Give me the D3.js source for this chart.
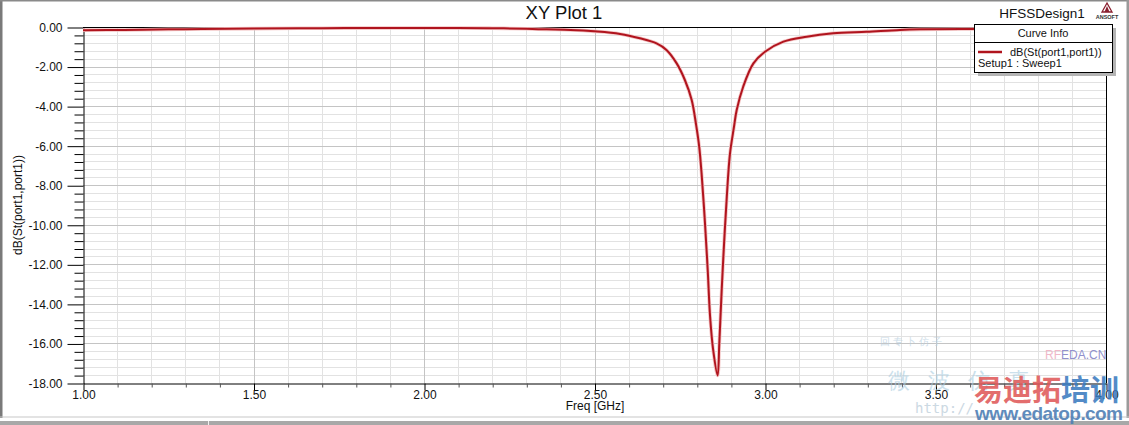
<!DOCTYPE html>
<html><head><meta charset="utf-8">
<script src="https://cdn.jsdelivr.net/npm/d3@7"></script>
<style>
html,body{margin:0;padding:0;background:#fff;}
svg{display:block;font-family:"Liberation Sans",Arial,sans-serif;}
</style></head>
<body><svg id="c" width="1129" height="425"></svg>
<script>
// ---- data ----
const freqGHz = [1.00, 1.12, 1.25, 1.35, 1.50, 1.70, 1.90, 2.00, 2.10, 2.20, 2.30, 2.36, 2.43, 2.50, 2.575, 2.633, 2.682, 2.711, 2.741, 2.765, 2.785, 2.798, 2.807, 2.814, 2.824, 2.832, 2.839, 2.848, 2.861, 2.866, 2.873, 2.880, 2.888, 2.897, 2.909, 2.917, 2.936, 2.966, 3.000, 3.054, 3.122, 3.200, 3.298, 3.396, 3.455, 3.60, 3.80, 4.00];
const s11dB   = [-0.16, -0.15, -0.12, -0.10, -0.08, -0.06, -0.05, -0.05, -0.05, -0.06, -0.09, -0.12, -0.15, -0.22, -0.35, -0.57, -0.83, -1.16, -1.84, -2.68, -3.69, -4.95, -6.05, -7.40, -9.92, -12.29, -14.65, -16.33, -17.62, -15.99, -13.30, -10.94, -8.58, -6.45, -5.05, -4.20, -3.02, -1.84, -1.25, -0.74, -0.49, -0.32, -0.24, -0.15, -0.12, -0.10, -0.07, -0.05];
const xMajorTicks = [1.00, 1.50, 2.00, 2.50, 3.00, 3.50, 4.00];
const yMajorTicks = [0, -2, -4, -6, -8, -10, -12, -14, -16, -18];
const titleText = "XY Plot 1";
const designText = "HFSSDesign1";
const xLabel = "Freq [GHz]";
const yLabel = "dB(St(port1,port1))";
const legendTitle = "Curve Info";
const legendCurve = "dB(St(port1,port1))";
const legendSetup = "Setup1 : Sweep1";

// ---- layout ----
const svg = d3.select("#c");
const L = 83, R = 1106, T = 27, B = 383;
const x = d3.scaleLinear().domain([1, 4]).range([L, R]);
const y = d3.scaleLinear().domain([0, -18]).range([T, B]);

svg.append("rect").attr("width",1129).attr("height",425).attr("fill","#fff");

// window frame
svg.append("rect").attr("x",0).attr("y",0).attr("width",2.5).attr("height",418).attr("fill","#7a7a7a");
svg.append("rect").attr("x",0).attr("y",0).attr("width",1129).attr("height",1.5).attr("fill","#8a8a8a");
svg.append("rect").attr("x",1126.5).attr("y",0).attr("width",2.5).attr("height",418).attr("fill","#9a9a9a");
svg.append("rect").attr("x",0).attr("y",416.5).attr("width",1129).attr("height",1).attr("fill","#c8c8c8");
svg.append("rect").attr("x",0).attr("y",421).attr("width",1129).attr("height",4).attr("fill","#a8a8a8");
svg.append("rect").attr("x",208).attr("y",421).attr("width",1).attr("height",4).attr("fill","#f0f0f0");

// grid
const xMinor = d3.range(11, 40).map(d => d / 10).filter(v => Math.abs(v*2 - Math.round(v*2)) > 1e-6);
const xMajInner = xMajorTicks.filter(v => v > 1 && v < 4);
const yMinor = d3.range(1, 45).map(d => -d * 0.4).filter(v => v > -18 && Math.abs(v/2 - Math.round(v/2)) > 1e-6);
const yMajInner = yMajorTicks.filter(v => v < 0 && v > -18);
const g = svg.append("g");
g.selectAll(".vx").data(xMinor).join("line")
  .attr("x1", d => Math.round(x(d)) + 0.5).attr("x2", d => Math.round(x(d)) + 0.5)
  .attr("y1", T).attr("y2", B).attr("stroke", "#e2e2e2");
g.selectAll(".hy").data(yMinor).join("line")
  .attr("y1", d => Math.round(y(d)) + 0.5).attr("y2", d => Math.round(y(d)) + 0.5)
  .attr("x1", L).attr("x2", R).attr("stroke", "#e2e2e2");
g.selectAll(".vX").data(xMajInner).join("line")
  .attr("x1", d => Math.round(x(d)) + 0.5).attr("x2", d => Math.round(x(d)) + 0.5)
  .attr("y1", T).attr("y2", B).attr("stroke", "#c4c4c4");
g.selectAll(".hY").data(yMajInner).join("line")
  .attr("y1", d => Math.round(y(d)) + 0.5).attr("y2", d => Math.round(y(d)) + 0.5)
  .attr("x1", L).attr("x2", R).attr("stroke", "#c4c4c4");

// frame top/right
svg.append("line").attr("x1",L).attr("x2",R+0.5).attr("y1",T+0.5).attr("y2",T+0.5).attr("stroke","#000");
svg.append("line").attr("x1",R+0.5).attr("x2",R+0.5).attr("y1",T).attr("y2",B).attr("stroke","#000");

// axes
const fmt = d => d.toFixed(2);
svg.append("g").attr("transform", `translate(${L+0.5},0.5)`)
  .call(d3.axisLeft(y).tickValues(yMajorTicks).tickSize(16).tickSizeOuter(0).tickPadding(5).tickFormat(fmt));
svg.append("g").attr("transform", `translate(${L+0.5},0.5)`)
  .call(d3.axisLeft(y).tickValues(yMinor).tickSize(9).tickSizeOuter(0).tickFormat(""))
  .select(".domain").remove();
svg.append("g").attr("transform", `translate(0.5,${B+0.5})`)
  .call(d3.axisBottom(x).tickValues(xMajorTicks).tickSize(7).tickSizeOuter(0).tickPadding(0).tickFormat(fmt));
svg.append("g").attr("transform", `translate(0.5,${B+0.5})`)
  .call(d3.axisBottom(x).tickValues(xMinor).tickSize(4).tickSizeOuter(0).tickFormat(""))
  .call(s => s.selectAll("line").attr("stroke","#555"))
  .select(".domain").remove();
svg.selectAll(".tick text").attr("font-size", 12).attr("fill", "#111").attr("font-family", '"Liberation Sans",Arial,sans-serif');
svg.selectAll(".domain").attr("stroke", "#000");

// curve
const pts = freqGHz.map((f, i) => [f, s11dB[i]]);
const line = d3.line().x(d => x(d[0])).y(d => y(d[1])).curve(d3.curveCatmullRom.alpha(0.5));
svg.append("path").datum(pts).attr("d", line).attr("fill","none")
  .attr("stroke", "#f3c4c4").attr("stroke-width", 3.6).attr("stroke-linejoin","round");
svg.append("path").datum(pts).attr("d", line).attr("fill","none")
  .attr("stroke", "#b0141e").attr("stroke-width", 2).attr("stroke-linejoin","round");

// titles
svg.append("text").attr("x", 564).attr("y", 19).attr("text-anchor","middle")
  .attr("font-size", 18.5).attr("fill","#111").text(titleText);
svg.append("text").attr("x", 1042).attr("y", 17.5).attr("text-anchor","middle")
  .attr("font-size", 13.5).attr("fill","#111").text(designText);
// ansoft logo
const lg = svg.append("g").attr("transform","translate(1107,3)");
lg.append("path").attr("d","M0,0 L5,9 L-5,9 Z").attr("fill","none").attr("stroke","#8a2030").attr("stroke-width",1.3);
lg.append("path").attr("d","M0,3 L2.5,9 L-2.5,9 Z").attr("fill","#8a2030");
lg.append("text").attr("x",0).attr("y",15.5).attr("text-anchor","middle").attr("font-size",5.5).attr("font-weight","bold").attr("fill","#333").text("ANSOFT");

svg.append("text").attr("x", 595).attr("y", 410).attr("text-anchor","middle")
  .attr("font-size", 12).attr("fill","#111").text(xLabel);
svg.append("text").attr("transform","translate(22,205) rotate(-90)").attr("text-anchor","middle")
  .attr("font-size", 12).attr("fill","#111").text(yLabel);

// watermark
const wm = svg.append("g");
wm.append("text").attr("x", 888).attr("y", 388).attr("font-size", 22).attr("fill","#a9cde0").attr("opacity",0.6)
  .attr("letter-spacing", 18).text("微波仿真");
wm.append("text").attr("x", 880).attr("y", 345).attr("font-size", 10).attr("fill","#b8cfe0").attr("opacity",0.7)
  .attr("letter-spacing", 3).text("回专卜仿子");
wm.append("text").attr("x", 915).attr("y", 413).attr("font-size", 14).attr("fill","#c0d0dc").attr("opacity",0.8)
  .attr("font-family","DejaVu Sans Mono,monospace").text("http://");
const rf = wm.append("text").attr("x", 1045).attr("y", 359).attr("font-size", 12);
rf.append("tspan").attr("fill","#efb8c8").text("RF");
rf.append("tspan").attr("fill","#9090cc").text("EDA.CN");
const zh = wm.append("text").attr("x", 974).attr("y", 401).attr("font-size", 29).attr("font-weight","bold")
  .attr("font-family",'"Noto Sans CJK SC",sans-serif').attr("opacity",0.88);
zh.append("tspan").attr("fill","#e05a5a").text("易迪拓");
zh.append("tspan").attr("fill","#3c7cc0").text("培训");
wm.append("text").attr("x", 975).attr("y", 420).attr("font-size", 19).attr("font-weight","bold")
  .attr("fill","#4f7fb5").attr("opacity",0.9).attr("textLength",148).text("www.edatop.com");

// legend
const lx = 974, ly = 24, lw = 138, lh = 48;
svg.append("rect").attr("x", lx+4).attr("y", ly+4).attr("width", lw).attr("height", lh).attr("fill","#b4b4b4");
svg.append("rect").attr("x", lx+0.5).attr("y", ly+0.5).attr("width", lw).attr("height", lh).attr("fill","#fff").attr("stroke","#000");
svg.append("line").attr("x1", lx).attr("x2", lx+lw).attr("y1", ly+18.5).attr("y2", ly+18.5).attr("stroke","#000");
svg.append("text").attr("x", lx+lw/2).attr("y", ly+13).attr("text-anchor","middle").attr("font-size", 11).attr("fill","#111").text(legendTitle);
svg.append("line").attr("x1", lx+4).attr("x2", lx+28).attr("y1", ly+28).attr("y2", ly+28).attr("stroke","#b0141e").attr("stroke-width",2.5);
svg.append("text").attr("x", lx+36).attr("y", ly+32).attr("font-size", 11).attr("fill","#111").text(legendCurve);
svg.append("text").attr("x", lx+4).attr("y", ly+43).attr("font-size", 11).attr("fill","#111").text(legendSetup);
</script></body></html>
